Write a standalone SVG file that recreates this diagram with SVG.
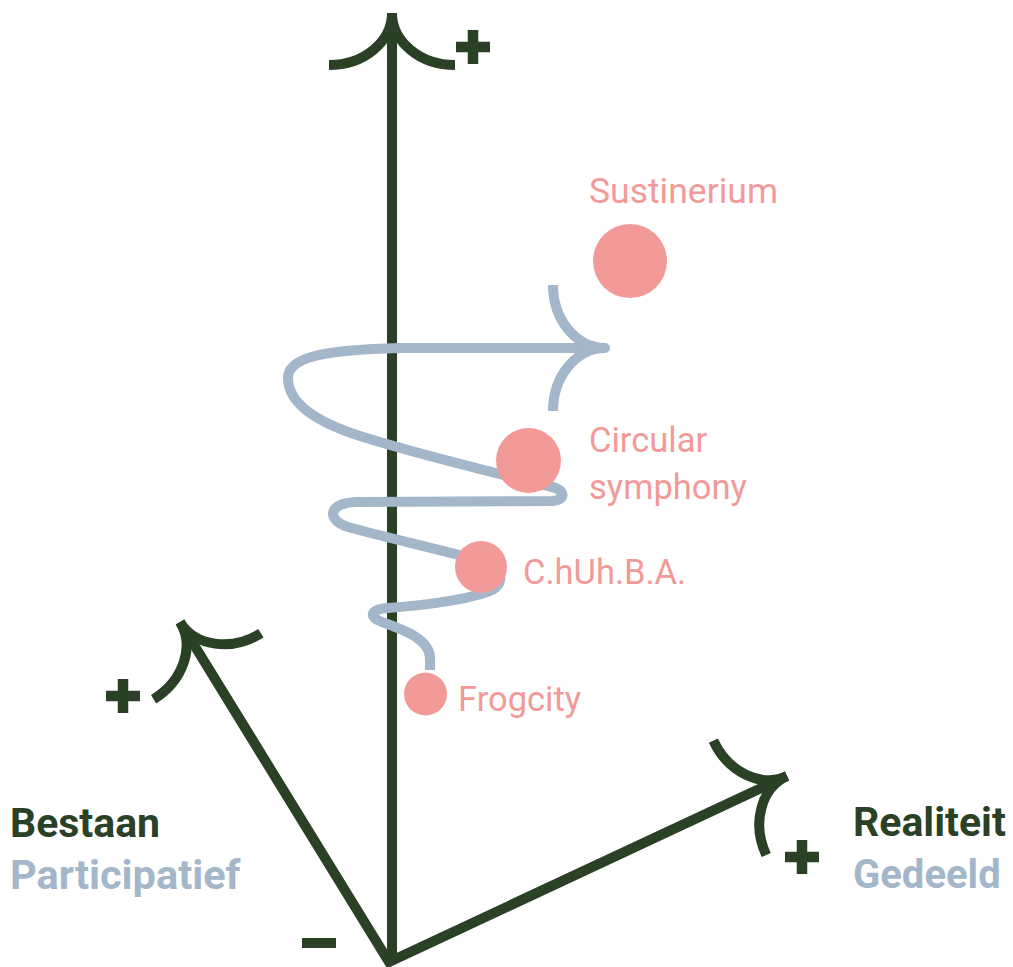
<svg xmlns="http://www.w3.org/2000/svg" xmlns:xlink="http://www.w3.org/1999/xlink" width="1013" height="967" viewBox="0 0 1013 967">
  <style>
    .axis { fill: none; stroke: #2a4125; stroke-width: 10; stroke-linecap: butt; stroke-linejoin: miter; }
    .flow { fill: none; stroke: #a3b6ca; stroke-width: 10; stroke-linecap: butt; stroke-linejoin: round; }
    .sign { fill: none; stroke: #2a4125; stroke-width: 10.5; }
    .node { fill: #f29a98; }
    .nlabel { font-family: Roboto, "Liberation Sans", sans-serif; font-size: 34.5px; fill: #f29a98; }
    .title { font-family: Roboto, "Liberation Sans", sans-serif; font-weight: 700; font-size: 41px; }
    .dark { fill: #2a4125; }
    .light { fill: #a3b6ca; }
  </style>
  <defs>
    <path id="ah" d="M-63,52 A63,52 0 0 0 0,0 A63,52 0 0 0 63,52"/>
    <path id="plus" d="M-17,0 H17 M0,-17 V17"/>
  </defs>

  <g id="connectors">
    <g id="axes">
      <path class="axis" d="M392,960 L392,13"/>
      <path class="axis" d="M180,622 L389,962 L787,776"/>
      <use class="axis" href="#ah" transform="translate(392,13)"/>
      <use class="axis" href="#ah" transform="translate(180,622) rotate(-31.6)"/>
      <use class="axis" href="#ah" transform="translate(787,776) rotate(65.2)"/>
    </g>
    <g id="spiral">
      <path class="flow" d="M430,670 L430,658 C430,640 405,630 382,622 C368,617 370,609 388,608 C430,605 475,598 492,590 C505,583 503,568 485,562 C450,552 380,536 348,527 C326,520 328,503 356,502 L552,501 C567,500 566,489 548,486 C500,474 420,455 360,436 C310,420 288,400 288,378 C288,358 320,350 400,348 L605,348"/>
      <use class="flow" href="#ah" transform="translate(605,348) rotate(90)"/>
    </g>
  </g>

  <g id="signs">
    <use class="sign" href="#plus" transform="translate(473,47)"/>
    <use class="sign" href="#plus" transform="translate(123,696)"/>
    <use class="sign" href="#plus" transform="translate(802,857)"/>
    <rect x="302" y="938" width="34" height="10" fill="#2a4125"/>
  </g>

  <g id="node-sustinerium">
    <circle class="node" cx="630" cy="261" r="37"/>
    <text class="nlabel" x="589" y="203" style="font-size:35.5px">Sustinerium</text>
  </g>
  <g id="node-circular-symphony">
    <circle class="node" cx="528.5" cy="460.5" r="32.5"/>
    <text class="nlabel" x="589" y="452">Circular</text>
    <text class="nlabel" x="589" y="499">symphony</text>
  </g>
  <g id="node-chuhba">
    <circle class="node" cx="481" cy="567" r="26"/>
    <text class="nlabel" x="523" y="584">C.hUh.B.A.</text>
  </g>
  <g id="node-frogcity">
    <circle class="node" cx="425.5" cy="694" r="21.5"/>
    <text class="nlabel" x="458" y="711">Frogcity</text>
  </g>

  <g id="label-bestaan">
    <text class="title dark" x="10" y="837">Bestaan</text>
    <text class="title light" x="10" y="889" style="font-size:41.5px">Participatief</text>
  </g>
  <g id="label-realiteit">
    <text class="title dark" x="853" y="836">Realiteit</text>
    <text class="title light" x="853" y="888" style="font-size:40px">Gedeeld</text>
  </g>
</svg>
